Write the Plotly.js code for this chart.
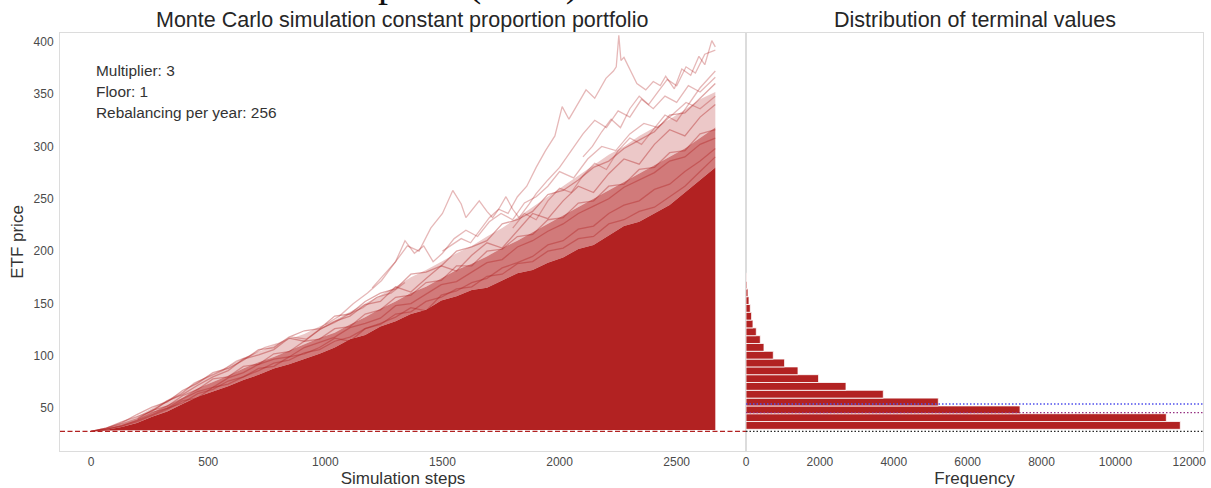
<!DOCTYPE html>
<html>
<head>
<meta charset="utf-8">
<script src="https://cdn.plot.ly/plotly-3.0.1.min.js"></script>
<style>
  html, body { margin: 0; padding: 0; background: #ffffff; }
  #chart { width: 1211px; height: 488px; }
</style>
</head>
<body>
<div id="chart"></div>
<script>
// ---- Simulation envelope grid (simulation step) ----
const envSteps = [0, 65, 130, 195, 260, 325, 390, 455, 520, 585, 650, 715, 780, 845, 910, 975,
  1040, 1105, 1170, 1235, 1300, 1365, 1430, 1495, 1560, 1625, 1690, 1755, 1820, 1885, 1950,
  2015, 2080, 2145, 2210, 2275, 2340, 2405, 2470, 2535, 2600, 2665];

// lowest simulated paths (just above the floor)
const lowerEnvelope = [28.2, 28.8, 29.0, 29.1, 29.2, 29.2, 29.3, 29.3, 29.3, 29.3, 29.3, 29.3,
  29.3, 29.3, 29.3, 29.3, 29.3, 29.3, 29.3, 29.3, 29.3, 29.3, 29.3, 29.3, 29.3, 29.3, 29.3,
  29.3, 29.3, 29.3, 29.3, 29.3, 29.3, 29.3, 29.3, 29.3, 29.3, 29.3, 29.3, 29.3, 29.3, 29.3];

// top of the fully saturated bundle of paths
const denseEnvelope = [28, 29.5, 32, 36, 42, 47, 54, 61, 66, 71, 77, 82, 88, 92, 97, 102,
  108, 116, 120, 128, 133, 140, 144, 153, 157, 163, 165, 172, 179, 182, 189,
  194, 202, 206, 215, 224, 228, 236, 244, 256, 268, 280];

// top of the half-transparent overlap zone
const midEnvelope = [28, 30.5, 34, 39, 46, 53, 60, 69, 75, 81, 88, 94, 99, 105, 111, 117,
  122, 130, 137, 145, 152, 160, 166, 174, 182, 188, 195, 203, 210, 218, 226,
  234, 242, 250, 258, 266, 274, 282, 290, 298, 308, 318];

// top of the sparse, light zone
const sparseEnvelope = [28, 31, 36, 42, 50, 58, 66, 76, 83, 90, 98, 104, 110, 116, 121, 128,
  134, 142, 150, 158, 166, 175, 182, 190, 198, 205, 214, 222, 232, 242, 252,
  262, 272, 282, 292, 300, 310, 318, 326, 335, 345, 352];

// paths wandering through the overlap zone (same step grid)
const bundlePath1 = [28, 30, 33, 38, 44, 50, 55, 64, 68, 76, 80, 86, 93, 96, 103, 106, 114, 118,
  126, 130, 140, 142, 152, 156, 164, 166, 176, 178, 188, 190, 200, 203, 212, 214, 226, 230, 238,
  242, 252, 262, 276, 290];
const bundlePath2 = [28, 31, 35, 40, 48, 52, 62, 68, 78, 80, 90, 92, 102, 104, 114, 116, 126, 128,
  140, 144, 156, 158, 170, 172, 186, 186, 200, 202, 214, 216, 230, 232, 246, 248, 262, 264, 278,
  280, 294, 296, 312, 316];
const bundlePath3 = [28, 31, 37, 42, 47, 57, 63, 72, 80, 86, 97, 101, 106, 117, 114, 125, 133, 138,
  149, 152, 166, 161, 174, 186, 181, 196, 208, 203, 220, 236, 231, 248, 262, 256, 274, 288, 283,
  302, 316, 310, 328, 340];
const bundlePath4 = [28, 30, 34, 39, 46, 50, 59, 66, 70, 79, 84, 92, 97, 99, 108, 113, 118, 127,
  131, 136, 148, 150, 159, 168, 171, 180, 189, 192, 204, 210, 219, 226, 236, 243, 250, 261, 268,
  275, 286, 290, 302, 308];
const bundlePath5 = [28, 29.8, 33, 37, 43, 49, 57, 60, 70, 73, 80, 88, 90, 99, 102, 108, 117, 114,
  126, 131, 137, 146, 143, 158, 162, 170, 174, 184, 189, 195, 206, 210, 221, 224, 236, 244, 248,
  259, 264, 276, 286, 298];
const bundlePath6 = [28, 31, 36, 44, 51, 56, 67, 74, 84, 88, 96, 106, 108, 118, 124, 126, 138, 140,
  152, 160, 164, 178, 180, 186, 200, 204, 210, 226, 230, 238, 254, 258, 268, 280, 286, 298, 306,
  314, 330, 332, 346, 360];

// ---- individual outlying paths ----
const path1Steps = [1500, 1540, 1580, 1620, 1660, 1700, 1740, 1780, 1820, 1860, 1900, 1940, 1980,
  2011, 2040, 2080, 2113, 2150, 2198, 2230, 2242, 2253, 2262, 2275, 2296, 2330, 2368, 2400, 2430,
  2453, 2490, 2522, 2560, 2595, 2620, 2650, 2665];
const path1Values = [200, 206, 212, 208, 220, 232, 240, 236, 252, 262, 280, 296, 310,
  338, 326, 342, 354, 346, 365, 372, 376, 406, 382, 385, 375, 360, 354, 362, 358,
  367, 355, 374, 368, 386, 378, 401, 395];

const path2Steps = [1200, 1250, 1300, 1350, 1400, 1450, 1500, 1544, 1580, 1600, 1630, 1657, 1690,
  1714, 1740, 1771, 1800, 1827, 1870, 1900, 1950, 2000, 2050, 2100, 2150, 2200, 2250, 2300, 2350,
  2400, 2450, 2500, 2550, 2600, 2665];
const path2Values = [165, 178, 190, 205, 200, 222, 236, 258, 245, 232, 240, 248, 238,
  232, 240, 252, 240, 232, 245, 255, 268, 280, 296, 312, 325, 318, 334, 328, 345,
  336, 348, 342, 358, 352, 366];

const path3Steps = [1000, 1060, 1120, 1180, 1240, 1300, 1340, 1380, 1420, 1460, 1500, 1550, 1600,
  1650, 1700, 1750, 1800, 1850, 1900, 1950, 2000, 2060, 2120, 2180, 2240, 2300, 2360, 2420, 2480,
  2540, 2600, 2665];
const path3Values = [130, 138, 150, 160, 172, 190, 210, 198, 205, 190, 198, 212, 220,
  214, 228, 236, 230, 246, 252, 262, 276, 270, 288, 300, 296, 312, 322, 318, 330,
  342, 336, 348];

const path4Steps = [200, 260, 320, 380, 440, 500, 560, 620, 680, 740, 800, 860, 920, 980, 1040,
  1100, 1160, 1220, 1280, 1340];
const path4Values = [40, 48, 56, 63, 74, 80, 86, 95, 100, 108, 112, 118, 116, 126, 132,
  140, 146, 156, 160, 170];

const path5Steps = [1800, 1850, 1900, 1950, 2000, 2050, 2100, 2150, 2200, 2250, 2300, 2350, 2400,
  2450, 2500, 2550, 2600, 2665];
const path5Values = [222, 236, 230, 248, 260, 256, 272, 284, 278, 296, 308, 302, 316,
  330, 324, 340, 356, 372];

const path6Steps = [2100, 2140, 2180, 2220, 2260, 2300, 2340, 2380, 2420, 2460, 2500, 2540, 2580,
  2620, 2665];
const path6Values = [290, 300, 314, 326, 318, 336, 348, 340, 352, 364, 358, 376, 370, 388, 392];

// ---- Terminal value histogram ----
const binEdges = [29.9, 37.35, 44.8, 52.25, 59.7, 67.15, 74.6, 82.05, 89.5, 96.95, 104.4, 111.85,
  119.3, 126.75, 134.2, 141.65, 149.1, 156.55, 164.0, 171.45, 178.9];
const binCounts = [11757, 11378, 7418, 5206, 3717, 2707, 1965, 1408, 1045, 739, 487, 387, 279,
  189, 152, 116, 81, 54, 27, 16];

// ---- Reference levels ----
const floorValue = 27.9;
const medianTerminal = 45.8;
const meanTerminal = 54.1;

// ---- Axis ticks ----
const stepTicks = [0, 500, 1000, 1500, 2000, 2500];
const priceTicks = [50, 100, 150, 200, 250, 300, 350, 400];
const freqTicks = [0, 2000, 4000, 6000, 8000, 10000, 12000];
const freqTickText = ['0', '2000', '4000', '6000', '8000', '10000', '12000'];

const infoLines = ['Multiplier: 3', 'Floor: 1', 'Rebalancing per year: 256'];

// ---- Figure geometry (pixels in a 1211 x 488 canvas) ----
const W = 1211, H = 488;
const px = v => v / W;
const py = v => 1 - v / H;

const RED = 'rgb(178,34,34)';
const FONT = 'Arial, "Liberation Sans", sans-serif';

const traces = [];
const bandTrace = (y, fill, fillcolor) => ({
  x: envSteps, y: y, type: 'scatter', mode: 'lines',
  line: { width: 0, color: 'rgba(0,0,0,0)' },
  fill: fill, fillcolor: fillcolor,
  xaxis: 'x', yaxis: 'y', hoverinfo: 'skip', showlegend: false
});
traces.push(bandTrace(lowerEnvelope, 'none', 'rgba(0,0,0,0)'));
traces.push(bandTrace(denseEnvelope, 'tonexty', RED));
traces.push(bandTrace(midEnvelope, 'tonexty', 'rgba(178,34,34,0.6)'));
traces.push(bandTrace(sparseEnvelope, 'tonexty', 'rgba(178,34,34,0.25)'));

const lineTrace = (xs, ys, alpha) => ({
  x: xs, y: ys, type: 'scatter', mode: 'lines',
  line: { width: 1.3, color: 'rgba(178,34,34,' + alpha + ')' },
  xaxis: 'x', yaxis: 'y', hoverinfo: 'skip', showlegend: false
});

[bundlePath1, bundlePath2, bundlePath3, bundlePath4, bundlePath5, bundlePath6]
  .forEach(ys => traces.push(lineTrace(envSteps, ys, 0.4)));

[[path1Steps, path1Values], [path2Steps, path2Values], [path3Steps, path3Values],
 [path4Steps, path4Values], [path5Steps, path5Values], [path6Steps, path6Values]]
  .forEach(([xs, ys]) => traces.push(lineTrace(xs, ys, 0.32)));

// histogram of terminal values, drawn as horizontal bars
const binCenters = binCounts.map((_, i) => (binEdges[i] + binEdges[i + 1]) / 2);
const binWidths = binCounts.map((_, i) => binEdges[i + 1] - binEdges[i]);
traces.push({
  type: 'bar', orientation: 'h', x: binCounts, y: binCenters, width: binWidths,
  marker: { color: RED, line: { color: '#ffffff', width: 0.8 } },
  xaxis: 'x2', yaxis: 'y2', hoverinfo: 'skip', showlegend: false
});

const axisBase = {
  showgrid: false, zeroline: false, showline: true, mirror: true,
  linecolor: '#dcdcdc', linewidth: 1, ticks: '',
  tickfont: { family: FONT, size: 12, color: '#4a4a4a' },
  automargin: false
};

const titleFont = { family: FONT, size: 17, color: '#333333' };
const yDomain = [py(451), py(33)];
const yRange = [9.2, 408.3];

const layout = {
  width: W, height: H,
  margin: { l: 0, r: 0, t: 0, b: 0 },
  paper_bgcolor: '#ffffff', plot_bgcolor: '#ffffff',
  showlegend: false,
  xaxis: Object.assign({}, axisBase, {
    domain: [px(60), px(746)], range: [-133, 2796], anchor: 'y',
    tickvals: stepTicks,
    title: { text: 'Simulation steps', font: titleFont, standoff: 5 }
  }),
  yaxis: Object.assign({}, axisBase, {
    domain: yDomain, range: yRange, anchor: 'x',
    tickvals: priceTicks, ticklabelstandoff: 3,
    title: { text: 'ETF price', font: titleFont, standoff: 5 }
  }),
  xaxis2: Object.assign({}, axisBase, {
    domain: [px(746), px(1203)], range: [0, 12371], anchor: 'y2',
    tickvals: freqTicks, ticktext: freqTickText,
    title: { text: 'Frequency', font: titleFont, standoff: 5 }
  }),
  yaxis2: Object.assign({}, axisBase, {
    domain: yDomain, range: yRange, anchor: 'x2',
    showticklabels: false
  }),
  shapes: [
    { type: 'line', xref: 'x domain', yref: 'y', x0: 0, x1: 1, y0: floorValue, y1: floorValue,
      line: { color: RED, width: 1.4, dash: '5px,2.5px' } },
    { type: 'line', xref: 'x2 domain', yref: 'y2', x0: 0, x1: 1, y0: floorValue, y1: floorValue,
      line: { color: 'rgb(40,40,40)', width: 1.4, dash: '1.5px,2px' } },
    { type: 'line', xref: 'x2 domain', yref: 'y2', x0: 0, x1: 1, y0: medianTerminal, y1: medianTerminal,
      line: { color: 'rgb(150,50,130)', width: 1.4, dash: '1.5px,2px' } },
    { type: 'line', xref: 'x2 domain', yref: 'y2', x0: 0, x1: 1, y0: meanTerminal, y1: meanTerminal,
      line: { color: 'rgb(80,80,235)', width: 1.4, dash: '1.5px,2px' } }
  ],
  annotations: [
    { text: 'Monte Carlo simulation constant proportion portfolio', xref: 'paper', yref: 'paper',
      x: px(402), y: py(20), xanchor: 'center', yanchor: 'middle', showarrow: false,
      font: { family: FONT, size: 21.5, color: '#262626' } },
    { text: 'Distribution of terminal values', xref: 'paper', yref: 'paper',
      x: px(974.5), y: py(20), xanchor: 'center', yanchor: 'middle', showarrow: false,
      font: { family: FONT, size: 21.5, color: '#262626' } },
    { text: 'ETF price (CPPI)', xref: 'paper', yref: 'paper',
      x: px(295), y: py(7), xanchor: 'left', yanchor: 'bottom', showarrow: false,
      font: { family: '"Liberation Serif", "DejaVu Serif", serif', size: 40, color: '#111111' } }
  ].concat(infoLines.map((t, i) => ({
    text: t, xref: 'paper', yref: 'paper', x: px(94), y: py(70 + 21 * i),
    xanchor: 'left', yanchor: 'middle', showarrow: false,
    font: { family: FONT, size: 15.4, color: '#333333' }
  })))
};

Plotly.newPlot('chart', traces, layout, { staticPlot: true, displayModeBar: false });
</script>
</body>
</html>
